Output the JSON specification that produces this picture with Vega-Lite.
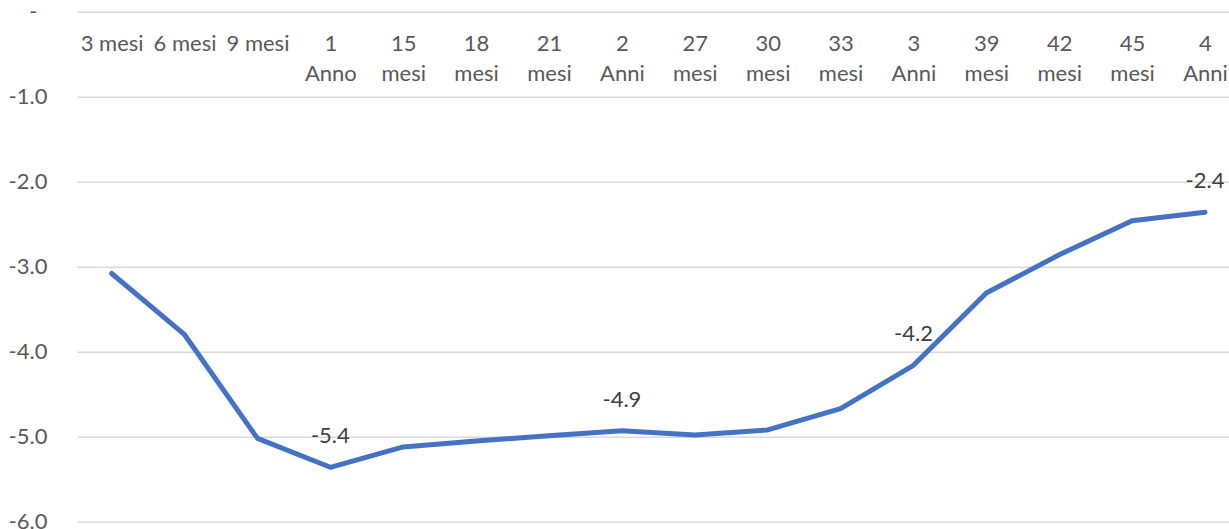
{
  "$schema": "https://vega.github.io/schema/vega-lite/v6.json",
  "width": 1152,
  "height": 510,
  "autosize": {"type": "none"},
  "padding": {"left": 77, "top": 11.7, "right": 0, "bottom": 7.3},
  "background": "white",
  "config": {
    "view": {"stroke": null},
    "font": "Lato",
    "locale": {"number": {"decimal": ".", "thousands": ",", "grouping": [3], "currency": ["", ""], "minus": "-"}}
  },
  "data": {
    "values": [
      {"periodo": "3 mesi", "valore": -3.08},
      {"periodo": "6 mesi", "valore": -3.80},
      {"periodo": "9 mesi", "valore": -5.02},
      {"periodo": "1 Anno", "valore": -5.36},
      {"periodo": "15 mesi", "valore": -5.12},
      {"periodo": "18 mesi", "valore": -5.05},
      {"periodo": "21 mesi", "valore": -4.99},
      {"periodo": "2 Anni", "valore": -4.93},
      {"periodo": "27 mesi", "valore": -4.98},
      {"periodo": "30 mesi", "valore": -4.92},
      {"periodo": "33 mesi", "valore": -4.67},
      {"periodo": "3 Anni", "valore": -4.16},
      {"periodo": "39 mesi", "valore": -3.31},
      {"periodo": "42 mesi", "valore": -2.86},
      {"periodo": "45 mesi", "valore": -2.46},
      {"periodo": "4 Anni", "valore": -2.36}
    ]
  },
  "encoding": {
    "x": {
      "field": "periodo",
      "type": "ordinal",
      "sort": null,
      "scale": {"type": "point", "padding": 0.4026, "align": 0.591},
      "axis": {
        "orient": "bottom",
        "offset": -510,
        "title": null,
        "domain": false,
        "ticks": false,
        "tickSize": 0,
        "grid": false,
        "labelAngle": 0,
        "labelPadding": 22,
        "labelFontSize": 22,
        "labelColor": "#595959",
        "labelBaseline": "top",
        "labelLineHeight": 30,
        "labelOverlap": false,
        "labelExpr": "length(datum.value) > 6 || indexof(datum.value, 'Ann') >= 0 ? split(datum.value, ' ') : datum.value"
      }
    },
    "y": {
      "field": "valore",
      "type": "quantitative",
      "scale": {"domain": [-6, 0], "nice": false, "zero": false},
      "axis": {
        "title": null,
        "values": [-6, -5, -4, -3, -2, -1, 0],
        "domain": false,
        "ticks": false,
        "labelPadding": {"condition": {"test": "datum.value === 0", "value": 40}, "value": 30},
        "labelFontSize": 22,
        "labelColor": "#595959",
        "labelBaseline": "middle",
        "gridColor": "#D9D9D9",
        "gridWidth": 1.5,
        "labelExpr": "datum.value === 0 ? '-' : format(datum.value, '.1f')"
      }
    }
  },
  "layer": [
    {
      "mark": {"type": "line", "color": "#4472C4", "strokeWidth": 5, "strokeJoin": "round", "strokeCap": "round"}
    },
    {
      "transform": [{"filter": "indexof(datum.periodo, 'Ann') >= 0"}],
      "mark": {"type": "text", "dy": -31, "baseline": "middle", "align": "center", "fontSize": 22, "color": "#404040"},
      "encoding": {"text": {"field": "valore", "type": "quantitative", "format": ".1f"}}
    }
  ]
}
